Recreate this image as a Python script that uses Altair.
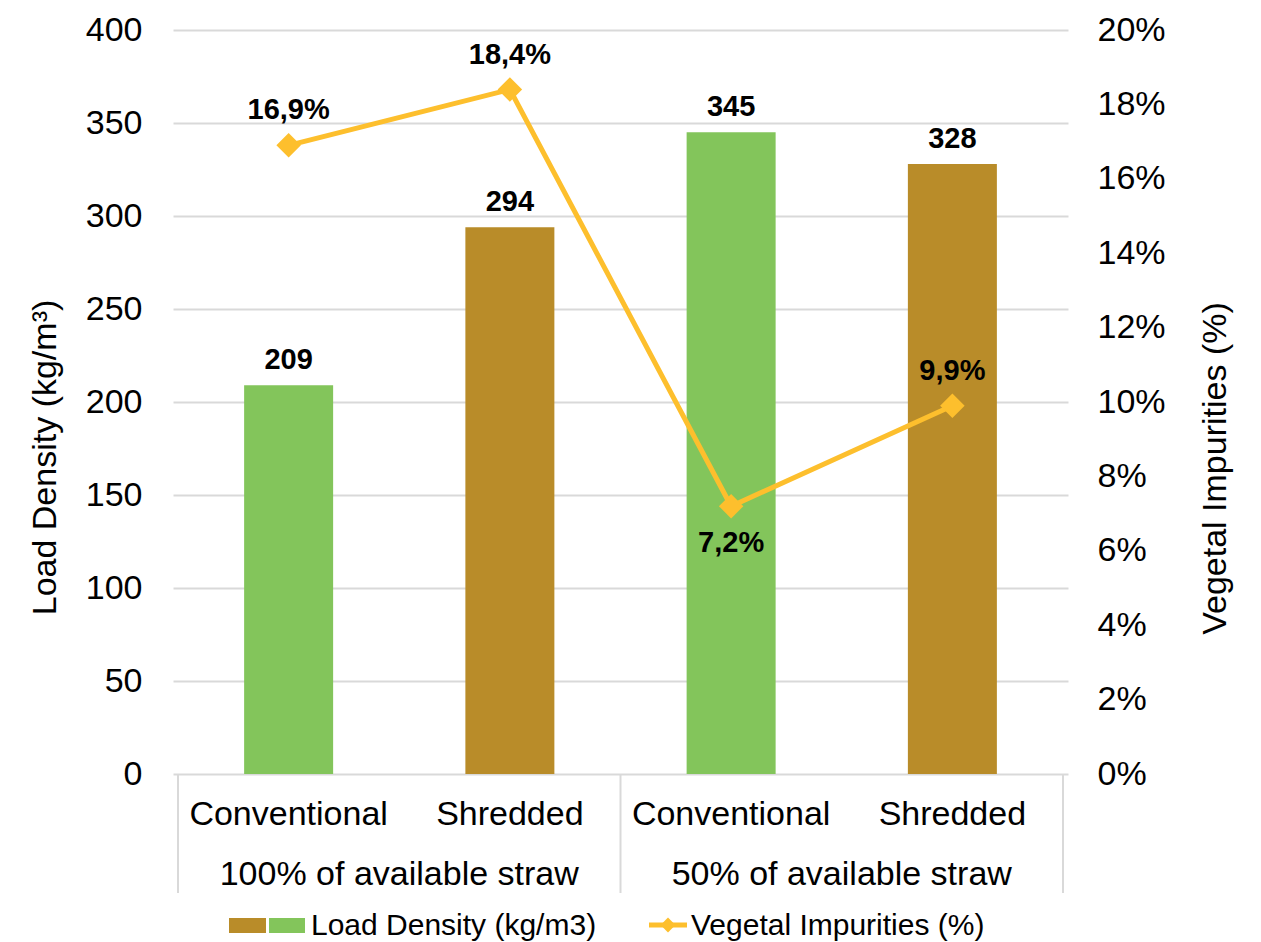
import altair as alt
import pandas as pd

# ---- data -------------------------------------------------------------
groups = [
    "100% of available straw",
    "100% of available straw",
    "50% of available straw",
    "50% of available straw",
]
methods = ["Conventional", "Shredded", "Conventional", "Shredded"]
load_density = [209, 294, 345, 328]          # kg/m3
impurities = [0.169, 0.184, 0.072, 0.099]    # share of vegetal impurities

density_ticks = list(range(0, 401, 50))
impurity_ticks = [round(i * 0.02, 2) for i in range(11)]

# ---- styling ----------------------------------------------------------
GREEN = "#83C55B"
BROWN = "#B98C29"
YELLOW = "#FDBF2D"
GRID = "#D9D9D9"
FONT = "Liberation Sans"
W, H = 895, 744

df = pd.DataFrame({
    "group": groups,
    "method": methods,
    "density": load_density,
    "impurity": impurities,
})
df["pos"] = [i + 0.5 for i in range(len(df))]

# a point is a valley when both neighbours are higher: its label goes below
valley = []
for i, v in enumerate(impurities):
    left = impurities[i - 1] if i > 0 else None
    right = impurities[i + 1] if i < len(impurities) - 1 else None
    valley.append(left is not None and right is not None and v < left and v < right)
df["valley"] = valley

# group boundaries on the category axis
bounds = [0] + [i for i in range(1, len(groups)) if groups[i] != groups[i - 1]] + [len(groups)]
sep_df = pd.DataFrame({"b": bounds})

x_enc = alt.X(
    "pos:Q",
    title=None,
    scale=alt.Scale(domain=[0, len(df)], nice=False, zero=False),
    axis=alt.Axis(labels=False, ticks=False, grid=False, domainColor=GRID,
                  domainWidth=2),
)

y_left = alt.Y(
    "density:Q",
    scale=alt.Scale(domain=[0, 400], nice=False),
    axis=alt.Axis(
        values=density_ticks, grid=True, gridColor=GRID, gridWidth=2,
        domain=False, ticks=False, tickSize=0, labelPadding=31,
        labelFont=FONT, labelFontSize=34, labelColor="black",
        title="Load Density (kg/m³)", titleFont=FONT, titleFontSize=34,
        titleFontWeight="normal", titleColor="black", titleAngle=270,
        titleX=-118, titleY=427, titleAlign="center", titleBaseline="alphabetic",
    ),
)

y_right = alt.Y(
    "impurity:Q",
    scale=alt.Scale(domain=[0, 0.2], nice=False),
    axis=alt.Axis(
        orient="right", values=impurity_ticks, format=".0%", grid=False,
        domain=False, ticks=False, tickSize=0, labelPadding=29,
        labelFont=FONT, labelFontSize=34, labelColor="black", labelAlign="left",
        title="Vegetal Impurities (%)", titleFont=FONT, titleFontSize=34,
        titleFontWeight="normal", titleColor="black", titleAngle=270,
        titleX=157, titleY=438, titleAlign="center", titleBaseline="alphabetic",
    ),
)

base = alt.Chart(df)

bars = base.mark_bar(size=89).encode(
    x=x_enc,
    y=y_left,
    color=alt.Color("method:N", legend=None,
                    scale=alt.Scale(domain=["Conventional", "Shredded"],
                                    range=[GREEN, BROWN])),
)
bar_text = base.mark_text(dy=-16, baseline="alphabetic", font=FONT,
                          fontSize=29, fontWeight="bold", color="black").encode(
    x=x_enc, y=y_left, text=alt.Text("density:Q"),
)
left = alt.layer(bars, bar_text)

line = base.mark_line(color=YELLOW, strokeWidth=5).encode(x=x_enc, y=y_right)
points = base.mark_point(shape="diamond", filled=True, size=600, opacity=1,
                         color=YELLOW).encode(x=x_enc, y=y_right)
lbl = base.transform_calculate(
    lbl="replace(format(datum.impurity, '.1%'), '.', ',')"
)
above = lbl.transform_filter("!datum.valley").mark_text(
    dy=-26, baseline="alphabetic", font=FONT, fontSize=29, fontWeight="bold",
    color="black").encode(x=x_enc, y=y_right, text="lbl:N")
below = lbl.transform_filter("datum.valley").mark_text(
    dy=46, baseline="alphabetic", font=FONT, fontSize=29, fontWeight="bold",
    color="black").encode(x=x_enc, y=y_right, text="lbl:N")
right = alt.layer(line, points, above, below)

# ---- two-level category labels under the plot --------------------------
separators = alt.Chart(sep_df).mark_rule(color=GRID, strokeWidth=2).encode(
    x=alt.X("b:Q", scale=alt.Scale(domain=[0, len(df)], nice=False, zero=False),
            axis=None),
    y=alt.value(H), y2=alt.value(H + 119),
)
cat_labels = base.mark_text(baseline="alphabetic", font=FONT, fontSize=34,
                            color="black").encode(
    x=x_enc, y=alt.value(H + 51), text="method:N",
)
group_labels = base.transform_aggregate(
    center="mean(pos)", groupby=["group"]
).mark_text(baseline="alphabetic", font=FONT, fontSize=34, color="black").encode(
    x=alt.X("center:Q", scale=alt.Scale(domain=[0, len(df)], nice=False, zero=False),
            axis=None),
    y=alt.value(H + 111), text="group:N",
)

# ---- legend ------------------------------------------------------------
one = alt.Chart(pd.DataFrame({"k": [0]}))
leg_brown = one.mark_rect(color=BROWN).encode(
    x=alt.value(56), x2=alt.value(93), y=alt.value(888), y2=alt.value(903))
leg_green = one.mark_rect(color=GREEN).encode(
    x=alt.value(96), x2=alt.value(132), y=alt.value(888), y2=alt.value(903))
leg_text1 = one.mark_text(align="left", baseline="middle", font=FONT,
                          fontSize=30, color="black").encode(
    x=alt.value(138), y=alt.value(896), text=alt.value("Load Density (kg/m3)"))
leg_line = one.mark_rule(color=YELLOW, strokeWidth=5).encode(
    x=alt.value(476), x2=alt.value(514), y=alt.value(895))
leg_pt = one.mark_point(shape="diamond", filled=True, size=220, opacity=1,
                        color=YELLOW).encode(x=alt.value(495), y=alt.value(895))
leg_text2 = one.mark_text(align="left", baseline="middle", font=FONT,
                          fontSize=30, color="black").encode(
    x=alt.value(518), y=alt.value(896), text=alt.value("Vegetal Impurities (%)"))

chart = alt.layer(
    left, right, separators, cat_labels, group_labels,
    leg_brown, leg_green, leg_text1, leg_line, leg_pt, leg_text2,
).resolve_scale(y="independent").properties(
    width=W, height=H,
    autosize=alt.AutoSizeParams(type="none"),
    padding={"left": 173, "top": 30, "right": 193, "bottom": 168},
    background="white",
).configure_view(stroke=None)

chart.save("out.html", embed_options={"renderer": "svg", "actions": False})
